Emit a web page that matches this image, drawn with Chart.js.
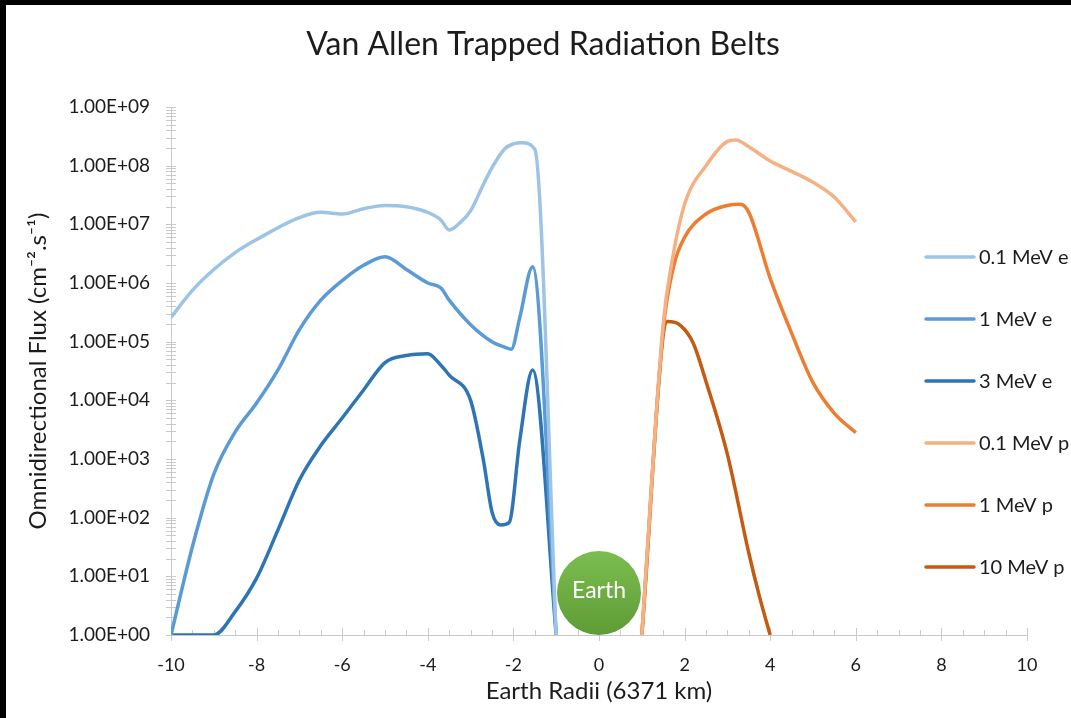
<!DOCTYPE html>
<html>
<head>
<meta charset="utf-8">
<title>Van Allen Trapped Radiation Belts</title>
<script src="https://cdn.jsdelivr.net/npm/chart.js@4.4.1/dist/chart.umd.min.js"></script>
<style>
  html, body { margin: 0; padding: 0; background: #fff; overflow: hidden; }
  #wrap { position: relative; width: 1071px; height: 718px; }
  #beltChart { position: absolute; left: 0; top: 0; }
  .edge { position: absolute; background: #000; }
</style>
</head>
<body>
<div id="wrap">
  <canvas id="beltChart" width="1071" height="718"></canvas>
  <div class="edge" style="left:0;top:0;width:1071px;height:5px"></div>
  <div class="edge" style="left:0;top:0;width:6px;height:718px"></div>
</div>
<script>
// electron belts (negative radii side)
const e01X = [-10, -9.5, -9, -8.5, -8, -7, -6.5, -6, -5.5, -5, -4.5, -4, -3.7, -3.5, -3.2, -3, -2.7, -2.5, -2.2, -2, -1.8, -1.5, -1];
const e01Y = [2.6e5, 7.5e5, 1.7e6, 3.3e6, 5.5e6, 1.3e7, 1.6e7, 1.5e7, 1.85e7, 2.1e7, 2.0e7, 1.6e7, 1.2e7, 8e6, 1.15e7, 1.7e7, 4.8e7, 9.3e7, 1.95e8, 2.35e8, 2.45e8, 1.9e8, 1];

const e1X = [-10, -9.5, -9, -8.5, -8, -7.5, -7, -6.5, -6, -5.5, -5, -4.5, -4, -3.7, -3.5, -3, -2.5, -2.2, -2.05, -1.85, -1.55, -1];
const e1Y = [1, 32, 550, 2.9e3, 9e3, 3.3e4, 1.6e5, 5.1e5, 1.1e6, 2.0e6, 2.8e6, 1.7e6, 1.0e6, 8.3e5, 5.1e5, 1.95e5, 1.0e5, 8e4, 7.4e4, 2.6e5, 1.9e6, 1];

const e3X = [-10, -9, -8.5, -8, -7.5, -7, -6.5, -6, -5.5, -5, -4.5, -4, -3.7, -3.5, -3, -2.7, -2.5, -2.3, -2.1, -1.85, -1.55, -1];
const e3Y = [1, 1, 2.5, 9.3, 62, 440, 1.7e3, 5e3, 1.5e4, 4.4e4, 5.8e4, 6.2e4, 4e4, 2.7e4, 1.0e4, 950, 125, 75, 82, 2.1e3, 3.3e4, 1];

// proton belts (positive radii side)
const p01X = [1, 1.5, 1.7, 2, 2.5, 3, 3.2, 3.5, 4, 4.5, 5, 5.5, 6];
const p01Y = [1, 2e5, 2.2e6, 2.2e7, 1.0e8, 2.6e8, 2.75e8, 2.1e8, 1.2e8, 8e7, 5.2e7, 2.9e7, 1.1e7];

const p1X = [1, 1.5, 1.75, 2, 2.5, 3, 3.3, 3.5, 4, 4.5, 5, 5.5, 6];
const p1Y = [1, 1.6e5, 2e6, 6e6, 1.5e7, 2.1e7, 2.2e7, 1.6e7, 1.2e6, 1.4e5, 2e4, 6e3, 2.8e3];

const p10X = [1, 1.6, 1.9, 2.2, 2.5, 3, 3.5, 3.75, 4];
const p10Y = [1, 2.2e5, 1.9e5, 9.5e4, 2.1e4, 1.2e3, 25, 4.5, 1];

const seriesLabels = ['0.1 MeV e', '1 MeV e', '3 MeV e', '0.1 MeV p', '1 MeV p', '10 MeV p'];
const seriesColors = ['#9DC3E6', '#5B9BD5', '#2E75B6', '#F4B183', '#ED7D31', '#C55A11'];
const seriesX = [e01X, e1X, e3X, p01X, p1X, p10X];
const seriesY = [e01Y, e1Y, e3Y, p01Y, p1Y, p10Y];

const xTicks = [-10, -8, -6, -4, -2, 0, 2, 4, 6, 8, 10];
const yDecades = [1, 1e1, 1e2, 1e3, 1e4, 1e5, 1e6, 1e7, 1e8, 1e9];

const FONT = 'Lato, "Open Sans", sans-serif';
const TEXT = '#1c1c1c';
const AXIS_GREY = '#c9c9c9';

function fmtExp(v) {
  const e = Math.round(Math.log10(v));
  const m = (v / Math.pow(10, e)).toFixed(2);
  return m + 'E' + (e < 0 ? '-' : '+') + String(Math.abs(e)).padStart(2, '0');
}

const datasets = seriesLabels.map((label, i) => ({
  label: label,
  data: seriesX[i].map((x, j) => ({ x: x, y: seriesY[i][j] })),
  borderColor: seriesColors[i],
  backgroundColor: seriesColors[i],
  borderWidth: 3.5,
  pointRadius: 0,
  fill: false,
  cubicInterpolationMode: 'monotone'
}));

// axis tick marks: majors + minors, crossing the axis lines
const tickMarks = {
  id: 'tickMarks',
  beforeDatasetsDraw(chart) {
    const { ctx, scales: { x, y }, chartArea } = chart;
    ctx.save();
    ctx.strokeStyle = AXIS_GREY;
    ctx.lineWidth = 1;
    ctx.beginPath();
    for (let n = 0; n < 9; n++) {
      for (let k = 1; k <= 9; k++) {
        const py = Math.round(y.getPixelForValue(k * Math.pow(10, n))) + 0.5;
        ctx.moveTo(chartArea.left - 5, py);
        ctx.lineTo(chartArea.left + 5, py);
      }
    }
    const topY = Math.round(y.getPixelForValue(1e9)) + 0.5;
    ctx.moveTo(chartArea.left - 5, topY);
    ctx.lineTo(chartArea.left + 5, topY);
    for (let v = -10; v <= 10; v += 0.5) {
      const px = Math.round(x.getPixelForValue(v)) + 0.5;
      if (v % 2 === 0) {
        ctx.moveTo(px, chartArea.bottom - 7);
        ctx.lineTo(px, chartArea.bottom + 6);
      } else {
        ctx.moveTo(px, chartArea.bottom - 5);
        ctx.lineTo(px, chartArea.bottom);
      }
    }
    ctx.stroke();
    ctx.restore();
  }
};

// the planet sitting on the axis at r = 0, plus title and legend
const decorations = {
  id: 'decorations',
  afterDatasetsDraw(chart) {
    const { ctx, scales: { x }, chartArea } = chart;
    const cx = x.getPixelForValue(0);
    const r = 42;
    const cy = chartArea.bottom - r;
    ctx.save();
    const g = ctx.createLinearGradient(0, cy - r, 0, cy + r);
    g.addColorStop(0, '#7cbd50');
    g.addColorStop(1, '#5e9c35');
    ctx.fillStyle = g;
    ctx.beginPath();
    ctx.arc(cx, cy, r, 0, Math.PI * 2);
    ctx.fill();
    ctx.fillStyle = '#ffffff';
    ctx.font = '23px ' + FONT;
    ctx.textAlign = 'center';
    ctx.textBaseline = 'middle';
    ctx.fillText('Earth', cx, cy - 2);

    ctx.fillStyle = TEXT;
    ctx.font = '32px ' + FONT;
    ctx.fillText('Van Allen Trapped Radiation Belts', 543, 45);

    ctx.font = '20px ' + FONT;
    ctx.textAlign = 'left';
    chart.data.datasets.forEach((ds, i) => {
      const ly = 257 + i * 62;
      ctx.strokeStyle = ds.borderColor;
      ctx.lineWidth = 3.5;
      ctx.lineCap = 'round';
      ctx.beginPath();
      ctx.moveTo(926, ly);
      ctx.lineTo(974, ly);
      ctx.stroke();
      ctx.fillStyle = TEXT;
      ctx.fillText(ds.label, 979, ly + 1);
    });
    ctx.restore();
  }
};

const beltChart = new Chart(document.getElementById('beltChart'), {
  type: 'line',
  data: { datasets: datasets },
  options: {
    responsive: false,
    animation: false,
    layout: { padding: { top: 107, right: 44, bottom: 0, left: 0 } },
    plugins: { legend: { display: false }, tooltip: { enabled: false } },
    scales: {
      x: {
        type: 'linear',
        min: -10,
        max: 10,
        afterBuildTicks: s => { s.ticks = xTicks.map(v => ({ value: v })); },
        afterFit: s => { s.height = 83; },
        grid: { drawOnChartArea: false, drawTicks: false },
        border: { color: AXIS_GREY },
        ticks: { padding: 19, color: TEXT, font: { family: FONT, size: 18 }, maxRotation: 0 },
        title: {
          display: true,
          text: 'Earth Radii (6371 km)',
          color: TEXT,
          font: { family: FONT, size: 24 },
          padding: { top: 0, bottom: 12 }
        }
      },
      y: {
        type: 'logarithmic',
        min: 1,
        max: 1e9,
        afterBuildTicks: s => { s.ticks = yDecades.map(v => ({ value: v })); },
        afterFit: s => { s.width = 171; },
        grid: { drawOnChartArea: false, drawTicks: false },
        border: { color: AXIS_GREY },
        ticks: { padding: 21, color: TEXT, font: { family: FONT, size: 19 }, callback: v => fmtExp(v) },
        title: {
          display: true,
          text: 'Omnidirectional Flux (cm\u207B\u00B2.s\u207B\u00B9)',
          color: TEXT,
          font: { family: FONT, size: 24 },
          padding: { top: 24, bottom: 0 }
        }
      }
    }
  },
  plugins: [tickMarks, decorations]
});
</script>
</body>
</html>
